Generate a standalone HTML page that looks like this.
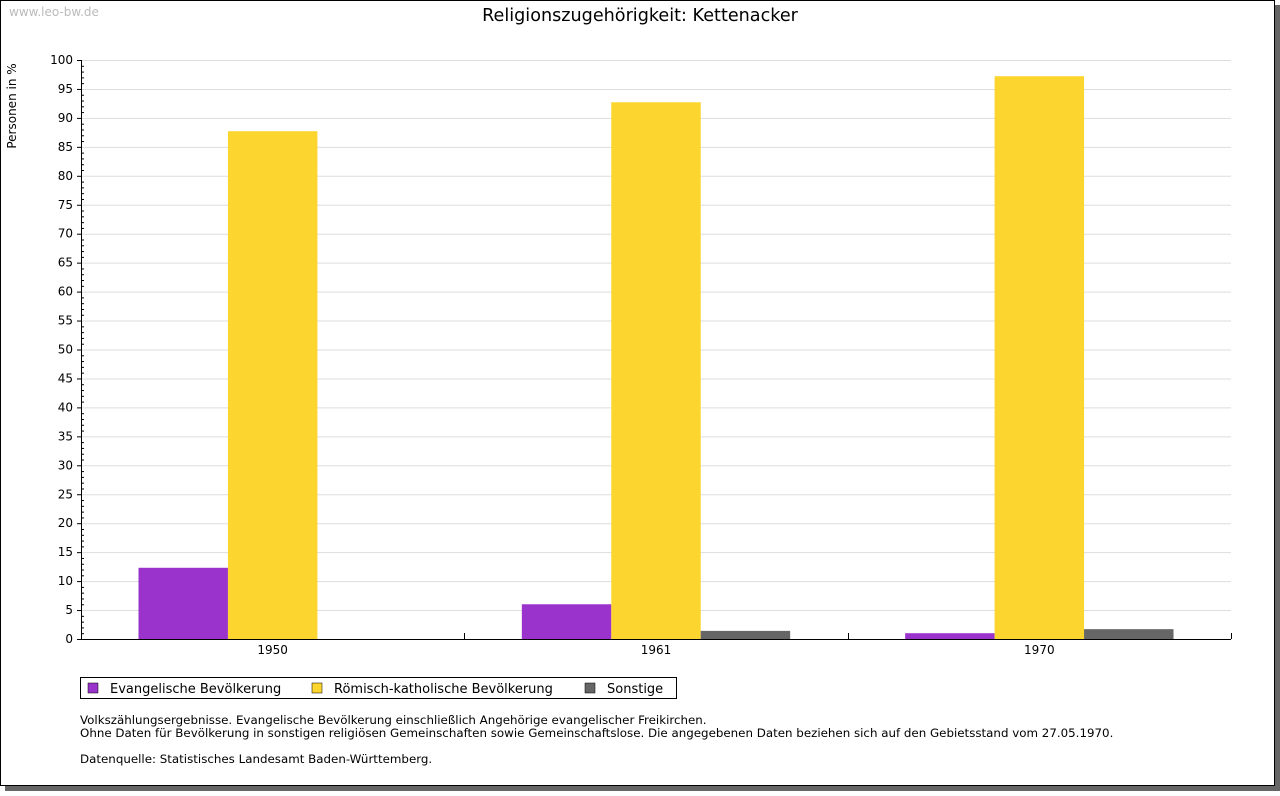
<!DOCTYPE html>
<html><head><meta charset="utf-8"><style>
body{margin:0;background:#fff;font-family:"Liberation Sans","DejaVu Sans",sans-serif;}
svg text{font-family:"DejaVu Sans","Liberation Sans",sans-serif;}
</style></head><body>
<svg id="c" width="1280" height="791" xmlns="http://www.w3.org/2000/svg">
<rect x="5" y="5" width="1275" height="786" fill="#666"/>
<rect x="0.5" y="0.5" width="1274" height="785" fill="#fff" stroke="#000"/>
<text x="9" y="16" font-size="12" fill="#bbb">www.leo-bw.de</text>
<text x="640" y="21" font-size="17.6" text-anchor="middle">Religionszugehörigkeit: Kettenacker</text>
<text transform="translate(16,106) rotate(-90)" font-size="12" text-anchor="middle">Personen in %</text>
<g id="grid"></g><g id="bars"></g><g id="axes"></g>
<rect x="80.5" y="677.5" width="596" height="21" fill="#fff" stroke="#000"/>
<rect x="88" y="683" width="10" height="10" fill="#9933cc" stroke="#000" stroke-width="0.5"/>
<text x="110" y="693" font-size="13">Evangelische Bevölkerung</text>
<rect x="312" y="683" width="10" height="10" fill="#fcd52e" stroke="#000" stroke-width="0.5"/>
<text x="334" y="693" font-size="13">Römisch-katholische Bevölkerung</text>
<rect x="585" y="683" width="10" height="10" fill="#666" stroke="#000" stroke-width="0.5"/>
<text x="607" y="693" font-size="13">Sonstige</text>
<g font-size="11.85">
<text x="80" y="724">Volkszählungsergebnisse. Evangelische Bevölkerung einschließlich Angehörige evangelischer Freikirchen.</text>
<text x="80" y="737">Ohne Daten für Bevölkerung in sonstigen religiösen Gemeinschaften sowie Gemeinschaftslose. Die angegebenen Daten beziehen sich auf den Gebietsstand vom 27.05.1970.</text>
<text x="80" y="763">Datenquelle: Statistisches Landesamt Baden-Württemberg.</text>
</g>
</svg>
<script>
const categories=["1950","1961","1970"];
const evangelisch=[12.3,6.0,1.0];
const katholisch=[87.7,92.7,97.2];
const sonstige=[0,1.4,1.7];
const yTicks=[0,5,10,15,20,25,30,35,40,45,50,55,60,65,70,75,80,85,90,95,100];
const NS="http://www.w3.org/2000/svg";
const X0=81,X1=1231,Y0=639,Y1=60;
const y=v=>Y0-(v/100)*(Y0-Y1);
const gw=(X1-X0)/categories.length;
function mk(t,a,p){const e=document.createElementNS(NS,t);for(const k in a)e.setAttribute(k,a[k]);document.getElementById(p).appendChild(e);return e;}
yTicks.forEach(v=>{
 const l=mk('line',{x1:X0,x2:X1,y1:y(v)+0.5,y2:y(v)+0.5,stroke:'#ddd'},'grid');
 
 
 const t=mk('line',{x1:X0-4,x2:X0,y1:y(v)+0.5,y2:y(v)+0.5,stroke:'#000'},'axes');
 
 
 const tx=mk('text',{x:X0-8,y:y(v)+4,'font-size':12,'text-anchor':'end'},'axes');
 tx.textContent=v;
 
 
});
for(let v=1;v<100;v++){ if(v%5==0)continue;
 const m=mk('line',{x1:X0,x2:X0+3,y1:y(v)+0.5,y2:y(v)+0.5,stroke:'#000'},'axes');
 
 
}
const series=[[evangelisch,'#9933cc','evangelisch'],[katholisch,'#fcd52e','katholisch'],[sonstige,'#666','sonstige']];
const bw=gw*0.7/3;
categories.forEach((c,i)=>{
 const gx=X0+i*gw;
 series.forEach((s,j)=>{
  const v=s[0][i]; if(v<=0)return;
  const r=mk('rect',{x:gx+gw*0.15+j*bw,y:y(v),width:bw,height:Y0-y(v),fill:s[1]},'bars');
  
  
 });
 const t=mk('text',{x:gx+gw/2,y:654,'font-size':12,'text-anchor':'middle'},'axes');
 t.textContent=c;
 
 
 const tk=mk('line',{x1:Math.round(gx+gw)+0.5,x2:Math.round(gx+gw)+0.5,y1:Y0,y2:Y0-6,stroke:'#000'},'axes');
 
 
});
const ya=mk('line',{x1:X0+0.5,x2:X0+0.5,y1:Y1,y2:Y0+1,stroke:'#000'},'axes');


const xa=mk('line',{x1:X0,x2:X1,y1:Y0+0.5,y2:Y0+0.5,stroke:'#000'},'axes');


</script>
</body></html>
